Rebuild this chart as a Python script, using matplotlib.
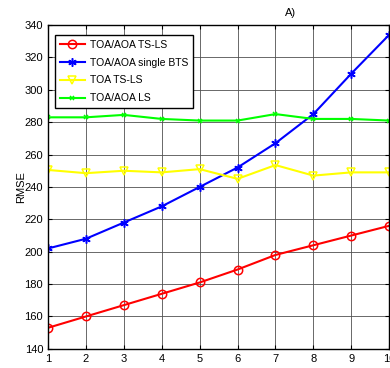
import matplotlib
matplotlib.use('Agg')
import matplotlib.pyplot as plt

plt.rcParams['font.family'] = ['Liberation Sans', 'DejaVu Sans']

x = [1, 2, 3, 4, 5, 6, 7, 8, 9, 10]
ts_ls = [153, 160, 167, 174, 181, 189, 198, 204, 210, 216]
single_bts = [202, 208, 218, 228, 240, 252, 267, 285, 310, 334]
toa_ts_ls = [250.5, 248.5, 250, 249, 251, 245, 253.5, 247, 249, 249]
aoa_ls = [283, 283, 284.5, 282, 281, 281, 285, 282, 282, 281]
labels = ['TOA/AOA TS-LS', 'TOA/AOA single BTS', 'TOA TS-LS', 'TOA/AOA LS']

fig = plt.figure(figsize=(3.9, 3.68), dpi=100)
ax = fig.add_axes([0.123, 0.052, 0.875, 0.88])

ax.plot(x, ts_ls, color='red', lw=1.5, marker='o', ms=6, mfc='none', mew=1.1, label=labels[0])
ax.plot(x, single_bts, color='blue', lw=1.5, marker=(6, 2, 0), ms=6, mew=1.1, label=labels[1])
ax.plot(x, toa_ts_ls, color='yellow', lw=1.5, marker='v', ms=6, mfc='none', mew=1.1, label=labels[2])
ax.plot(x, aoa_ls, color='lime', lw=1.5, marker='x', ms=3.5, mew=1.1, label=labels[3])

ax.set_xlim(1, 10)
ax.set_ylim(140, 340)
ax.set_xticks(x)
ax.set_yticks(range(140, 341, 20))
ax.tick_params(direction='in', top=True, right=True, labelsize=8, length=3)
ax.grid(True, color='#505050', lw=0.6)
ax.set_ylabel('RMSE', fontsize=8, labelpad=-1)
for s in ax.spines.values():
    s.set_linewidth(1.0)

leg = ax.legend(loc='upper left', bbox_to_anchor=(0.005, 0.985), fontsize=7.5,
                fancybox=False, edgecolor='black', framealpha=1,
                handlelength=2.4, borderpad=0.45, labelspacing=0.75, handletextpad=0.5)
leg.get_frame().set_linewidth(1.0)

fig.text(0.745, 0.965, 'A)', fontsize=8, ha='center', va='center')

fig.savefig('out.png', dpi=100)
